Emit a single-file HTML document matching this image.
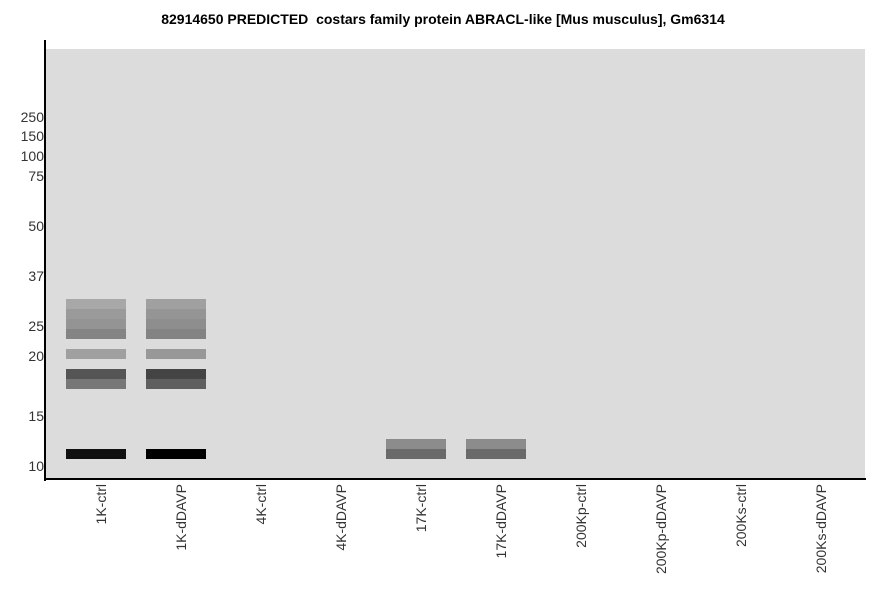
<!DOCTYPE html>
<html><head><meta charset="utf-8"><style>
html,body{margin:0;padding:0;background:#fff;}
svg{display:block;}
text{font-family:"Liberation Sans",Arial,sans-serif;}
</style></head><body>
<svg width="886" height="595" xmlns="http://www.w3.org/2000/svg">
<rect x="0" y="0" width="886" height="595" fill="#fff"/>
<text x="443" y="24" text-anchor="middle" font-size="14" font-weight="bold" fill="#000" style="white-space:pre">82914650 PREDICTED  costars family protein ABRACL-like [Mus musculus], Gm6314</text>
<rect x="45" y="49" width="820" height="430" fill="#dcdcdc"/>
<rect x="66" y="299" width="60" height="10" fill="#a8a8a8"/>
<rect x="66" y="309" width="60" height="10" fill="#9a9a9a"/>
<rect x="66" y="319" width="60" height="10" fill="#949494"/>
<rect x="66" y="329" width="60" height="10" fill="#848484"/>
<rect x="66" y="349" width="60" height="10" fill="#a0a0a0"/>
<rect x="66" y="369" width="60" height="10" fill="#555555"/>
<rect x="66" y="379" width="60" height="10" fill="#777777"/>
<rect x="66" y="449" width="60" height="10" fill="#101010"/>
<rect x="146" y="299" width="60" height="10" fill="#a0a0a0"/>
<rect x="146" y="309" width="60" height="10" fill="#959595"/>
<rect x="146" y="319" width="60" height="10" fill="#8e8e8e"/>
<rect x="146" y="329" width="60" height="10" fill="#838383"/>
<rect x="146" y="349" width="60" height="10" fill="#989898"/>
<rect x="146" y="369" width="60" height="10" fill="#444444"/>
<rect x="146" y="379" width="60" height="10" fill="#5f5f5f"/>
<rect x="146" y="449" width="60" height="10" fill="#000000"/>
<rect x="386" y="439" width="60" height="10" fill="#8c8c8c"/>
<rect x="386" y="449" width="60" height="10" fill="#6a6a6a"/>
<rect x="466" y="439" width="60" height="10" fill="#8c8c8c"/>
<rect x="466" y="449" width="60" height="10" fill="#6a6a6a"/>
<rect x="44" y="40" width="2" height="441" fill="#000"/>
<rect x="44" y="478" width="822" height="2" fill="#000"/>
<g font-size="14" fill="#333" text-anchor="end">
<text x="44" y="122">250</text>
<text x="44" y="141">150</text>
<text x="44" y="161">100</text>
<text x="44" y="181">75</text>
<text x="44" y="231">50</text>
<text x="44" y="281">37</text>
<text x="44" y="331">25</text>
<text x="44" y="361">20</text>
<text x="44" y="421">15</text>
<text x="44" y="471">10</text>
</g>
<g font-size="14" fill="#333" text-anchor="end">
<text transform="translate(106,484) rotate(-90)">1K-ctrl</text>
<text transform="translate(186,484) rotate(-90)">1K-dDAVP</text>
<text transform="translate(266,484) rotate(-90)">4K-ctrl</text>
<text transform="translate(346,484) rotate(-90)">4K-dDAVP</text>
<text transform="translate(426,484) rotate(-90)">17K-ctrl</text>
<text transform="translate(506,484) rotate(-90)">17K-dDAVP</text>
<text transform="translate(586,484) rotate(-90)">200Kp-ctrl</text>
<text transform="translate(666,484) rotate(-90)">200Kp-dDAVP</text>
<text transform="translate(746,484) rotate(-90)">200Ks-ctrl</text>
<text transform="translate(826,484) rotate(-90)">200Ks-dDAVP</text>
</g>
</svg>
</body></html>
